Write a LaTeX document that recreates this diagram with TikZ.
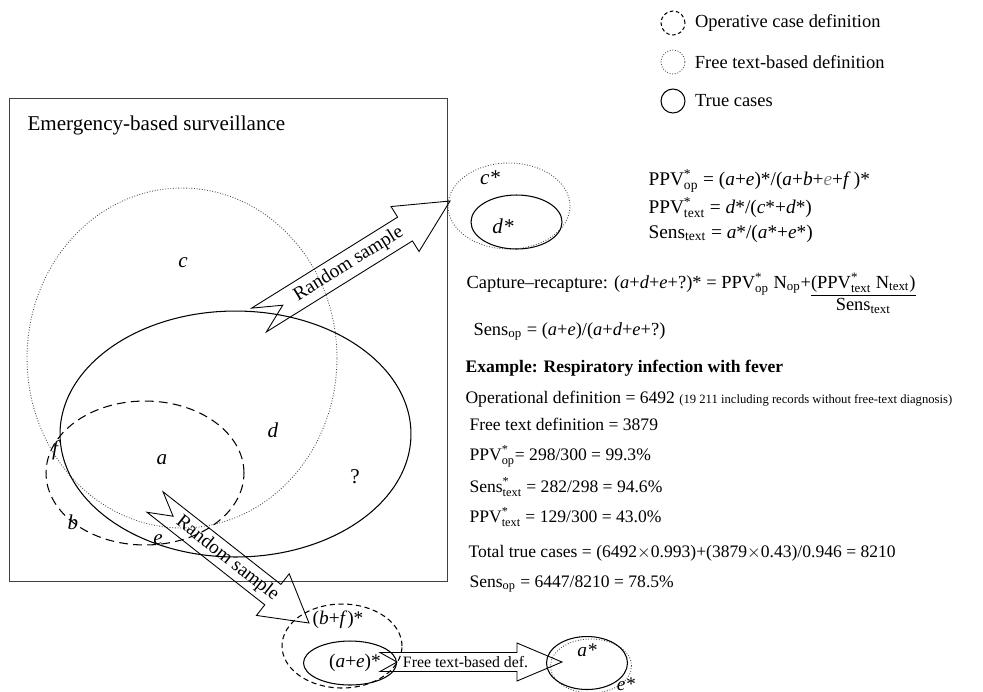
\documentclass[tikz,border=0pt]{standalone}
\usepackage{amsmath}
\usepackage{fontspec}
\setmainfont{Liberation Serif}
\usepackage{tikz}
\usetikzlibrary{positioning,shapes.geometric,calc}

\newcommand{\iv}[1]{\textit{#1}}
\newcommand{\PPVop}{PPV$^{\text{*}}_{\text{op}}$}
\newcommand{\PPVtext}{PPV$^{\text{*}}_{\text{text}}$}
\newcommand{\Sensop}{Sens$_{\text{op}}$}
\newcommand{\Senstext}{Sens$_{\text{text}}$}
\newcommand{\Senstextst}{Sens$^{\text{*}}_{\text{text}}$}

% block arrow with notched tail: tail, tip, shaft half width, head half width, head length, notch, label
\newcommand{\blockarrow}[7]{%
  \coordinate (#1-h) at ($(#2)!#5!(#1)$);
  \draw[blockline] ($(#1)!#3!90:(#2)$) -- ($(#1-h)!#3!-90:(#1)$)
    -- ($(#1-h)!#4!-90:(#1)$) -- (#2) -- ($(#1-h)!#4!90:(#1)$)
    -- ($(#1-h)!#3!90:(#1)$) -- ($(#1)!#3!-90:(#2)$)
    -- ($(#1)!#6!(#2)$) -- cycle;
  \path (#1) -- (#2) node[pos=0.47, sloped, inner sep=0pt] (#1-lbl) {#7};
}

\begin{document}
\begin{tikzpicture}[x=0.02cm, y=-0.02cm, line width=0.6pt,
    setline/.style={draw, ellipse, inner sep=0pt},
    truecase/.style={setline},
    opcase/.style={setline, dash pattern=on 5pt off 3pt},
    textcase/.style={setline, densely dotted, draw=black!70, line width=0.5pt},
    blockline/.style={line width=0.5pt},
    lbl/.style={inner sep=0pt, font=\fontsize{12}{14}\selectfont\itshape},
    txt/.style={inner sep=0pt, anchor=base west}]
\useasboundingbox (0,0) rectangle (983,691);

% legend
\node[draw, circle, minimum size=0.48cm, inner sep=0pt, dash pattern=on 2pt off 1.5pt] (legop) at (673,23) {};
\node[right=0.18cm of legop, inner sep=0pt, font=\fontsize{10.5}{12}\selectfont] (legoptxt) {Operative case definition};
\node[draw=black!70, circle, minimum size=0.48cm, inner sep=0pt, densely dotted, line width=0.5pt] (legtext) at (673,62) {};
\node[right=0.18cm of legtext, inner sep=0pt, font=\fontsize{10.5}{12}\selectfont] (legtexttxt) {Free text-based definition};
\node[draw, circle, minimum size=0.48cm, inner sep=0pt] (legtrue) at (673,101) {};
\node[right=0.18cm of legtrue, inner sep=0pt, font=\fontsize{10.5}{12}\selectfont] (legtruetxt) {True cases};

% surveillance frame
\node[draw=black!75, minimum width=8.78cm, minimum height=9.68cm, inner sep=0pt] (box) at (228.5,340) {};
\node[txt, font=\fontsize{12}{14}\selectfont] (title) at (27,130) {Emergency-based surveillance};

\node[textcase, minimum width=6.2cm, minimum height=6.8cm] (textset) at (182,358) {};
\node[truecase, minimum width=7.02cm, minimum height=4.92cm] (trueset) at (235.5,434) {};
\node[opcase, minimum width=3.96cm, minimum height=2.88cm] (opset) at (145,473) {};

\node[lbl] (lc) at (183,263) {c};
\node[lbl] (ld) at (273,430) {d};
\node[lbl] (la) at (162,460) {a};
\node[inner sep=0pt, font=\fontsize{12}{14}\selectfont] (lq) at (355,477) {?};
\node[lbl] (lf) at (55,450) {f};
\node[lbl] (lb) at (73,522) {b};
\node[lbl] (le) at (158,540) {e};

% sample of free text cases
\node[textcase, minimum width=2.44cm, minimum height=1.72cm] (cstar) at (509,206) {};
\node[truecase, minimum width=1.82cm, minimum height=1.08cm] (dstar) at (516.5,222) {};
\node[lbl] (lcs) at (490,178) {c*};
\node[lbl] (lds) at (503,226) {d*};

% sample of operative cases
\node[opcase, minimum width=2.4cm, minimum height=1.68cm, dash pattern=on 3pt off 2pt] (bfstar) at (342,646) {};
\node[truecase, minimum width=1.86cm, minimum height=0.88cm] (aestar) at (350,663) {};
\node[inner sep=0pt, font=\fontsize{11}{13}\selectfont] (lbf) at (338,620) {(\iv{b}+\iv{f})*};
\node[inner sep=0pt, font=\fontsize{11}{13}\selectfont] (lae) at (355,663) {(\iv{a}+\iv{e})*};

\node[textcase, minimum width=1.62cm, minimum height=1.08cm] (aetext) at (591,666) {};
\node[truecase, minimum width=1.62cm, minimum height=1.06cm] (astar) at (587,663) {};
\node[lbl, font=\fontsize{11}{13}\selectfont\itshape] (las) at (587,650) {a*};
\node[lbl, font=\fontsize{11}{13}\selectfont\itshape] (les) at (626,684) {e*};

% arrows
\coordinate (rs1tail) at (259,320);
\coordinate (rs1tip) at (450,201);
\blockarrow{rs1tail}{rs1tip}{0.28cm}{0.53cm}{1.06cm}{0.56cm}{\fontsize{11}{13}\selectfont Random sample}
\coordinate (rs2tail) at (155,502);
\coordinate (rs2tip) at (309,623);
\blockarrow{rs2tail}{rs2tip}{0.26cm}{0.53cm}{0.92cm}{0.46cm}{\fontsize{11}{13}\selectfont Random sample}
\coordinate (ftdtail) at (380,662);
\coordinate (ftdtip) at (562,662);
\blockarrow{ftdtail}{ftdtip}{0.19cm}{0.38cm}{0.9cm}{0.34cm}{\fontsize{9}{11}\selectfont Free text-based def.}

% formulas
\node[txt, font=\fontsize{11}{13}\selectfont] (fppvop) at (648,185) {\PPVop{} = (\iv{a}+\iv{e})*/(\iv{a}+\iv{b}+\textcolor{black!50}{\iv{e}}+\iv{f}\,)*};
\node[txt, font=\fontsize{11}{13}\selectfont] (fppvtext) at (648,213) {\PPVtext{} = \iv{d}*/(\iv{c}*+\iv{d}*)};
\node[txt, font=\fontsize{11}{13}\selectfont] (fsenstext) at (648,238) {\Senstext{} = \iv{a}*/(\iv{a}*+\iv{e}*)};
\node[txt, font=\fontsize{10.5}{12.6}\selectfont] (fcapt) at (466,288) {Capture--recapture: (\iv{a}+\iv{d}+\iv{e}+?)* = \PPVop{} N$_{\text{op}}$+\begin{tabular}[t]{@{}c@{}}(\PPVtext{} N$_{\text{text}}$)\\\hline \Senstext\end{tabular}};
\node[txt, font=\fontsize{10.5}{12.6}\selectfont] (fsensop) at (473,335) {\Sensop{} = (\iv{a}+\iv{e})/(\iv{a}+\iv{d}+\iv{e}+?)};

% example
\node[txt, font=\fontsize{10}{12}\selectfont] (exhead) at (465,372) {\textbf{Example: Respiratory infection with fever}};
\node[txt, font=\fontsize{10}{12}\selectfont] (exop) at (465,403) {Operational definition = 6492 {\fontsize{7.2}{9}\selectfont (19 211 including records without free-text diagnosis)}};
\node[txt, font=\fontsize{10}{12}\selectfont] (exft) at (469,430) {Free text definition = 3879};
\node[txt, font=\fontsize{10}{12}\selectfont] (exppvop) at (469,460) {\PPVop= 298/300 = 99.3\%};
\node[txt, font=\fontsize{10}{12}\selectfont] (exsens) at (469,492) {\Senstextst{} = 282/298 = 94.6\%};
\node[txt, font=\fontsize{10}{12}\selectfont] (exppvt) at (469,522) {\PPVtext{} = 129/300 = 43.0\%};
\node[txt, font=\fontsize{10}{12}\selectfont] (extotal) at (468,557) {Total true cases = (6492$\times$0.993)+(3879$\times$0.43)/0.946 = 8210};
\node[txt, font=\fontsize{10}{12}\selectfont] (exsensop) at (469,587) {\Sensop{} = 6447/8210 = 78.5\%};
\end{tikzpicture}
\end{document}
